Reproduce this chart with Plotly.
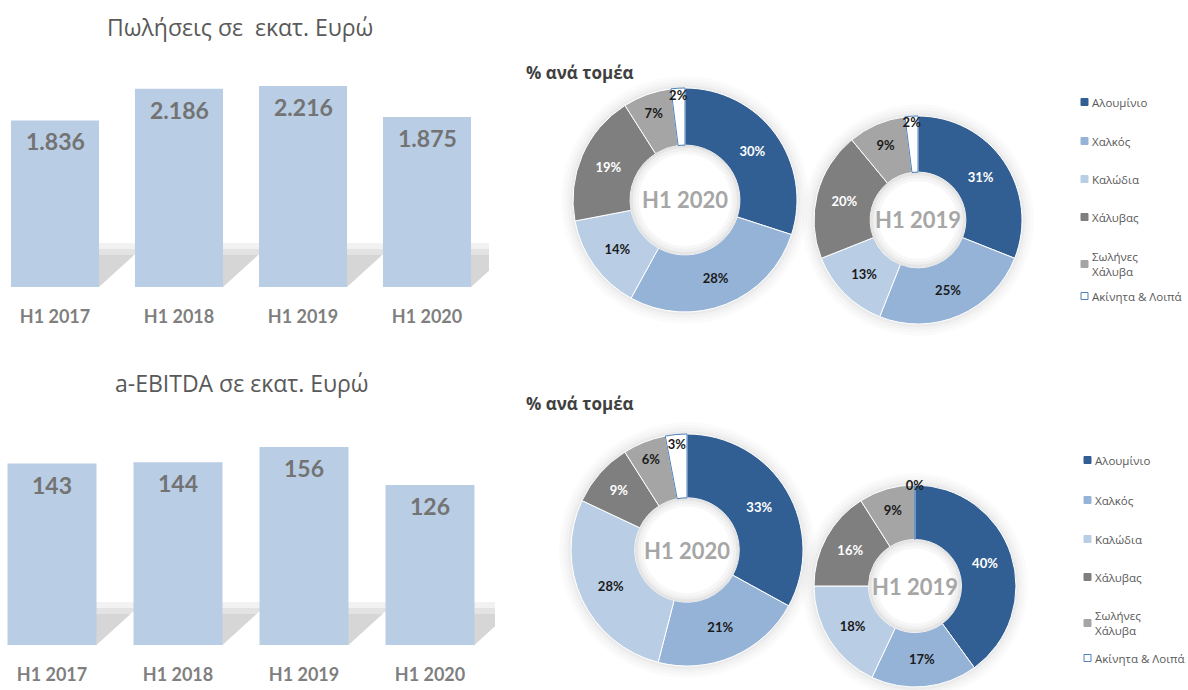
import plotly.graph_objects as go

W, H = 1188, 690

# ---------------- data ----------------
periods = ["H1 2017", "H1 2018", "H1 2019", "H1 2020"]
sales = [1836, 2186, 2216, 1875]
ebitda = [143, 144, 156, 126]

sectors = ["Αλουμίνιο", "Χαλκός", "Καλώδια", "Χάλυβας", "Σωλήνες<br>Χάλυβα", "Ακίνητα & Λοιπά"]
sales_mix_2020 = [30, 28, 14, 19, 7, 2]
sales_mix_2019 = [31, 25, 13, 20, 9, 2]
ebitda_mix_2020 = [33, 21, 28, 9, 6, 3]
ebitda_mix_2019 = [40, 17, 18, 16, 9, 0]

sales_title = "Πωλήσεις σε  εκατ. Ευρώ"
ebitda_title = "a-EBITDA σε εκατ. Ευρώ"
mix_title = "% ανά τομέα"

# ---------------- styles ----------------
sector_colors = ["#325f93", "#95b3d7", "#b9cde5", "#7f7f7f", "#a5a5a5", "#ffffff"]
sector_lines = ["#ffffff", "#ffffff", "#ffffff", "#ffffff", "#ffffff", "#4f81bd"]
pct_colors = ["#ffffff", "#1a1a1a", "#1a1a1a", "#ffffff", "#1a1a1a", "#1a1a1a"]
bar_color = "#b9cde5"
num_font = "Lato"
greek_font = "Open Sans"


def px(x):
    return x / W


def py(y):
    return 1 - y / H


fig = go.Figure()
shapes = []
annotations = []

# ---------------- bar charts ----------------
bar_specs = [
    # values, xaxis, yaxis, left px, right px, center0 px, step px, base px, top px, ref value, ref px, bar width, title, title x, title y, shadow top
    (sales, "x", "y", 0, 489, 55, 124, 287, 60, 2216, 86, 0.71, sales_title, 240, 27, 243),
    (ebitda, "x2", "y2", 0, 495, 52, 126, 645, 420, 156, 447, 0.706, ebitda_title, 242, 383, 602),
]

for i, (vals, xa, ya, lpx, rpx, c0, step, base, top, refv, refpx, bw, title, tx, ty, stop) in enumerate(bar_specs):
    sfx = "" if i == 0 else "2"
    fig.add_trace(go.Bar(
        x=list(range(len(periods))), y=vals, xaxis=xa, yaxis=ya,
        marker=dict(color=bar_color, line=dict(width=0)), width=bw,
        showlegend=False, hoverinfo="skip",
    ))
    xr = [(lpx - c0) / step, (rpx - c0) / step]
    yr_top = (base - top) * refv / (base - refpx)
    fig.update_layout(**{
        "xaxis" + sfx: dict(domain=[px(lpx), px(rpx)], range=xr, tickmode="array",
                            tickvals=list(range(len(periods))), ticktext=periods,
                            showgrid=False, zeroline=False, showline=False,
                            ticks="outside", ticklen=13, tickcolor="rgba(0,0,0,0)",
                            tickfont=dict(family=num_font, size=18, color="#7f7f7f", weight="bold"),
                            fixedrange=True, anchor="y" + sfx),
        "yaxis" + sfx: dict(domain=[py(base), py(top)], range=[0, yr_top], visible=False,
                            fixedrange=True, anchor="x" + sfx),
    })
    for k, v in enumerate(vals):
        annotations.append(dict(
            x=k, y=v, xref=xa, yref=ya, text=f"{v:,}".replace(",", "."),
            showarrow=False, yshift=-21, yanchor="middle",
            font=dict(family=num_font, size=23, color="#737373", weight="bold"),
        ))
        # cast shadow of each bar on the back wall
        bl = c0 + k * step - bw * step / 2
        br = c0 + k * step + bw * step / 2
        for hh, op in [(base - stop, 0.06), (base - stop - 6, 0.07), (base - stop - 12, 0.07)]:
            d = hh * 1.1
            x_right = min(br + d, rpx)
            shapes.append(dict(
                type="path", xref="paper", yref="paper", layer="below",
                path=(f"M {px(bl)},{py(base)} L {px(br)},{py(base)} "
                      f"L {px(x_right)},{py(base - (x_right - br) / 1.1)} "
                      f"L {px(x_right)},{py(base - hh)} L {px(bl + d)},{py(base - hh)} Z"),
                fillcolor=f"rgba(40,40,40,{op})", line=dict(width=0),
            ))
    annotations.append(dict(
        x=px(tx), y=py(ty), xref="paper", yref="paper", text=title, showarrow=False,
        xanchor="center", yanchor="middle",
        font=dict(family=greek_font, size=23, color="#595959"),
    ))

# ---------------- donuts ----------------
donuts = [
    (sales_mix_2020, "H1 2020", 685, 200, 112, 0.49),
    (sales_mix_2019, "H1 2019", 918, 220, 104, 0.46),
    (ebitda_mix_2020, "H1 2020", 687, 550, 116, 0.45),
    (ebitda_mix_2019, "H1 2019", 915, 586, 101, 0.46),
]

for vals, label, cx, cy, r, hole in donuts:
    fig.add_trace(go.Pie(
        labels=sectors, values=vals, hole=hole, sort=False, direction="clockwise",
        rotation=0, domain=dict(x=[px(cx - r), px(cx + r)], y=[py(cy + r), py(cy - r)]),
        marker=dict(colors=sector_colors, line=dict(color=sector_lines, width=1)),
        text=[f"{v}%" for v in vals], textinfo="text", textposition="inside",
        insidetextorientation="horizontal",
        textfont=dict(family=num_font, size=13, color=pct_colors, weight="bold"),
        showlegend=False, hoverinfo="skip",
    ))
    annotations.append(dict(
        x=px(cx), y=py(cy), xref="paper", yref="paper", text=label, showarrow=False,
        xanchor="center", yanchor="middle",
        font=dict(family=num_font, size=22, color="#a6a6a6", weight="bold"),
    ))
    # outer soft shadow
    for k, op in enumerate([0.08, 0.05, 0.03, 0.015]):
        rr = r + 1.5 + 3 * k
        shapes.append(dict(
            type="circle", xref="paper", yref="paper", layer="below",
            x0=px(cx - rr), x1=px(cx + rr), y0=py(cy + rr), y1=py(cy - rr),
            line=dict(color=f"rgba(0,0,0,{op})", width=3), fillcolor="rgba(0,0,0,0)",
        ))
    # inner shadow in the hole
    hr = r * hole
    for k, op in enumerate([0.10, 0.06, 0.03]):
        rr = hr - 1.5 - 3 * k
        shapes.append(dict(
            type="circle", xref="paper", yref="paper", layer="above",
            x0=px(cx - rr), x1=px(cx + rr), y0=py(cy + rr), y1=py(cy - rr),
            line=dict(color=f"rgba(0,0,0,{op})", width=3), fillcolor="rgba(0,0,0,0)",
        ))

for ty in (73, 403):
    annotations.append(dict(
        x=px(524), y=py(ty), xref="paper", yref="paper", text=mix_title, showarrow=False,
        xanchor="left", yanchor="middle",
        font=dict(family=greek_font, size=17, color="#404040", weight="bold"),
    ))

# ---------------- legends ----------------
legend_rows = [
    (1081, 1090, [102, 141, 179, 217, 264, 296]),
    (1084, 1093, [460, 500, 539, 577, 623, 658]),
]
for sx, tx, ys in legend_rows:
    for name, col, lc, y in zip(sectors, sector_colors, sector_lines, ys):
        shapes.append(dict(
            type="rect", xref="paper", yref="paper",
            x0=px(sx), x1=px(sx + 7), y0=py(y + 3.5), y1=py(y - 3.5),
            fillcolor=col, line=dict(color=col if col != "#ffffff" else lc, width=1),
        ))
        annotations.append(dict(
            x=px(tx), y=py(y), xref="paper", yref="paper", text=name, showarrow=False,
            xanchor="left", yanchor="middle", align="left",
            font=dict(family=greek_font, size=11.5, color="#595959"),
        ))

fig.update_layout(
    width=W, height=H, margin=dict(l=0, r=0, t=0, b=0),
    paper_bgcolor="white", plot_bgcolor="rgba(0,0,0,0)",
    bargap=0.29, showlegend=False,
    uniformtext=dict(minsize=13, mode="show"),
    shapes=shapes, annotations=annotations,
)

fig.write_html("out.html")
